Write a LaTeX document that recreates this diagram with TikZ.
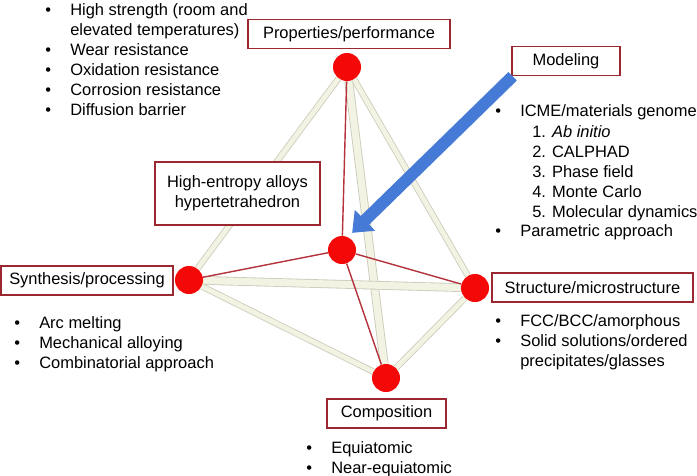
\documentclass[tikz,border=0pt]{standalone}
\usepackage{fontspec}
\setmainfont{Liberation Sans}
\usetikzlibrary{arrows.meta,backgrounds}

\definecolor{boxred}{RGB}{155,40,48}
\definecolor{edgered}{RGB}{180,50,60}
\definecolor{cream}{RGB}{243,243,228}
\definecolor{creamedge}{RGB}{204,204,188}
\definecolor{vertred}{RGB}{245,8,8}
\definecolor{arrblue}{RGB}{70,122,215}
\newcommand{\bul}{\makebox[0.625cm][l]{\textbullet}}

\begin{document}
\begin{tikzpicture}[x=0.025cm,y=-0.025cm,
    font=\fontsize{11.7}{14.2}\selectfont,
    vert/.style={circle,fill=vertred,minimum size=0.7cm,inner sep=0pt},
    lbl/.style={draw=boxred,line width=1.1pt,fill=white,minimum height=0.725cm,inner sep=2pt,align=center},
    txt/.style={anchor=base west,inner sep=0pt},
    pale/.style={draw=creamedge,line width=0.6pt,double=cream,double distance=3.4pt},
    wide/.style={pale,double distance=5pt},
    thin/.style={draw=edgered,line width=1pt},
    arr/.style={-{Triangle[length=0.45cm,width=0.7cm]},arrblue,line width=0.3cm}]
  \useasboundingbox (0,0) rectangle (697,475);

  % vertices of the hypertetrahedron
  \node[vert] (prop) at (347,67) {};
  \node[vert] (ctr) at (342,250) {};
  \node[vert] (syn) at (189,280) {};
  \node[vert] (str) at (475,288) {};
  \node[vert] (comp) at (386,378) {};

  % labels
  \node[lbl,minimum width=5.05cm] (propl) at (349,34) {Properties/performance};
  \node[lbl,minimum width=2.7cm] (modl) at (566,61) {Modeling};
  \node[lbl,minimum width=4.125cm,minimum height=1.575cm] (heal) at (237.5,193.5) {High-entropy alloys\\hypertetrahedron};
  \node[lbl,minimum width=4.3cm] (synl) at (87,280.5) {Synthesis/processing};
  \node[lbl,minimum width=5.025cm] (strl) at (592.5,287.5) {Structure/microstructure};
  \node[lbl,minimum width=2.975cm] (compl) at (386.5,413.5) {Composition};

  % edges
  \begin{scope}[on background layer]
    \draw[pale] (prop) -- (syn);
    \draw[pale] (prop) -- (str);
    \draw[wide] (prop) -- (comp);
    \draw[wide] (syn) -- (str);
    \draw[pale] (syn) -- (comp);
    \draw[pale] (str) -- (comp);
    \foreach \v in {prop,syn,str,comp}
      \draw[thin] (ctr) -- (\v);
  \end{scope}

  % properties list
  \node[txt] (pp0) at (45,15) {\bul High strength (room and};
  \node[txt] (pp1) at (70,35) {elevated temperatures)};
  \foreach \t [count=\i] in {Wear resistance,Oxidation resistance,Corrosion resistance,Diffusion barrier}
    \node[txt] (pp\i) at (45,35+20*\i) {\bul\t};

  % modeling list
  \node[txt] (mm0) at (495,116) {\bul ICME/materials genome};
  \node[txt] (mm1) at (532,137) {1. \textit{Ab initio}};
  \foreach \t [count=\i from 2] in {CALPHAD,Phase field,Monte Carlo,Molecular dynamics}
    \node[txt] (mm\i) at (532,117+20*\i) {\i. \t};
  \node[txt] (mm6) at (495,236) {\bul Parametric approach};

  % synthesis list
  \foreach \t [count=\i] in {Arc melting,Mechanical alloying,Combinatorial approach}
    \node[txt] (ss\i) at (14,308+20*\i) {\bul\t};

  % structure list
  \node[txt] (st1) at (495,326) {\bul FCC/BCC/amorphous};
  \node[txt] (st2) at (495,346) {\bul Solid solutions/ordered};
  \node[txt] (st3) at (520,366) {precipitates/glasses};

  % composition list
  \node[txt] (cc1) at (306,453) {\bul Equiatomic};
  \node[txt] (cc2) at (306,473) {\bul Near-equiatomic};

  % modeling arrow
  \draw[arr] ([xshift=1pt]modl.south west) -- ([yshift=5pt]ctr.north east);
\end{tikzpicture}
\end{document}
